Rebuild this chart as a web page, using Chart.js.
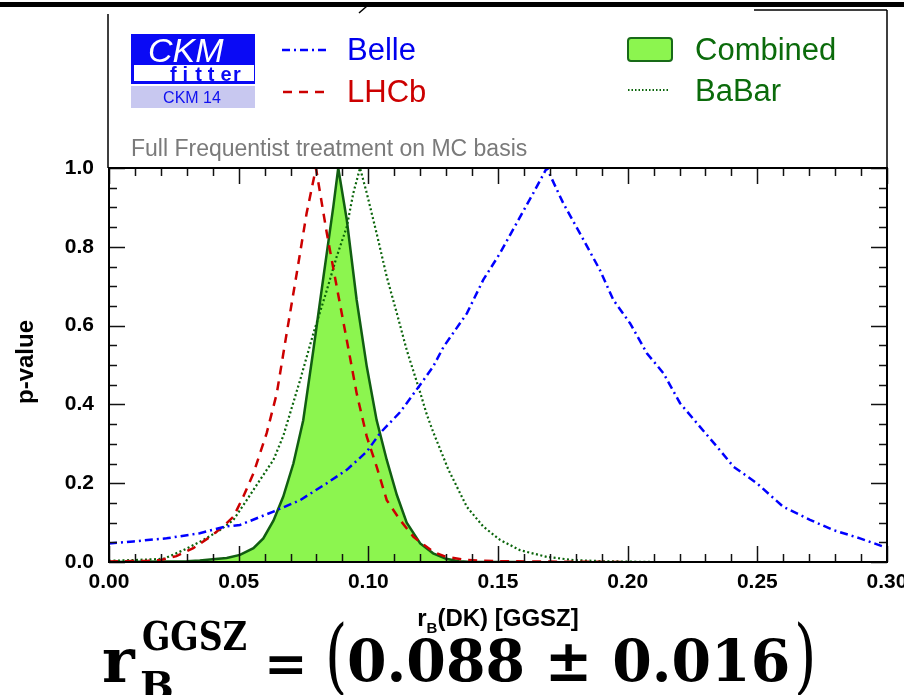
<!DOCTYPE html>
<html>
<head>
<meta charset="utf-8">
<script src="https://cdn.jsdelivr.net/npm/chart.js@4.4.1/dist/chart.umd.min.js"></script>
<style>
  html, body { margin: 0; padding: 0; background: #fff; }
  #wrap { width: 904px; height: 695px; position: relative; }
</style>
</head>
<body>
<div id="wrap"><canvas id="myChart" width="904" height="695"></canvas></div>
<script>
// tick labels
const xTickLabels = ['0.00', '0.05', '0.10', '0.15', '0.20', '0.25', '0.30'];
const yTickLabels = ['0.0', '0.2', '0.4', '0.6', '0.8', '1.0'];

// Combined (filled)
const combX = [0, 0.02, 0.03, 0.035, 0.04, 0.0454, 0.0505, 0.0557, 0.0595, 0.0634, 0.0672, 0.0711, 0.0749, 0.0788, 0.0827, 0.0865, 0.0884,
  0.0917, 0.0955, 0.0994, 0.1032, 0.1071, 0.111, 0.1148, 0.12, 0.125, 0.13, 0.135, 0.14, 0.16];
const combY = [0, 0.001, 0.002, 0.004, 0.007, 0.01, 0.018, 0.035, 0.06, 0.105, 0.166, 0.25, 0.36, 0.538, 0.724, 0.902, 1.0,
  0.868, 0.665, 0.496, 0.36, 0.259, 0.17, 0.1, 0.047, 0.022, 0.008, 0.002, 0.0, 0.0];

// LHCb
const lhcbX = [0, 0.005, 0.015, 0.02, 0.026, 0.0325, 0.039, 0.044, 0.048, 0.0518, 0.0557, 0.0608, 0.0647, 0.0685, 0.0724, 0.0762, 0.0798,
  0.084, 0.0878, 0.0917, 0.0955, 0.0994, 0.1032, 0.1071, 0.1122, 0.1174, 0.125, 0.13, 0.138, 0.15, 0.17, 0.2];
const lhcbY = [0.001, 0.002, 0.003, 0.005, 0.015, 0.035, 0.064, 0.09, 0.115, 0.166, 0.225, 0.327, 0.428, 0.58, 0.733, 0.885, 1.0,
  0.834, 0.699, 0.563, 0.428, 0.318, 0.242, 0.157, 0.107, 0.064, 0.026, 0.013, 0.005, 0.002, 0.001, 0.0];

// BaBar
const babarX = [0, 0.01, 0.021, 0.0287, 0.0364, 0.0428, 0.048, 0.0531, 0.0582, 0.0634, 0.0672, 0.0737, 0.0788, 0.084, 0.0878, 0.0917, 0.0942, 0.0968,
  0.0994, 0.1032, 0.1071, 0.111, 0.1148, 0.12, 0.1225, 0.125, 0.1309, 0.138, 0.1443, 0.1508, 0.1585, 0.1688, 0.179, 0.19, 0.21];
const babarY = [0.003, 0.005, 0.008, 0.03, 0.056, 0.081, 0.107, 0.157, 0.208, 0.259, 0.32, 0.462, 0.58, 0.69, 0.775, 0.851, 0.936, 1.0,
  0.936, 0.834, 0.724, 0.631, 0.538, 0.43, 0.375, 0.33, 0.234, 0.14, 0.09, 0.056, 0.03, 0.013, 0.005, 0.002, 0.0];

// Belle
const belleX = [0, 0.0094, 0.017, 0.0222, 0.035, 0.045, 0.0505, 0.057, 0.0634, 0.0737, 0.084, 0.0917, 0.0994, 0.1045, 0.1122, 0.12, 0.125, 0.129, 0.138,
  0.1443, 0.1508, 0.1572, 0.1636, 0.1688, 0.1752, 0.1816, 0.1893, 0.1945, 0.2009, 0.2074, 0.2138, 0.2202, 0.2279, 0.2344, 0.2408, 0.2498,
  0.26, 0.2703, 0.2793, 0.2896, 0.2986];
const belleY = [0.047, 0.052, 0.057, 0.06, 0.073, 0.09, 0.094, 0.111, 0.128, 0.157, 0.2, 0.234, 0.28, 0.327, 0.38, 0.45, 0.496, 0.546, 0.631,
  0.716, 0.784, 0.86, 0.936, 1.0, 0.91, 0.834, 0.741, 0.665, 0.606, 0.53, 0.479, 0.403, 0.343, 0.293, 0.242, 0.2,
  0.14, 0.107, 0.081, 0.06, 0.039];

const pts = (xs, ys) => xs.map((x, i) => ({ x: x, y: ys[i] }));

const SANS = '"Liberation Sans", Arial, sans-serif';
const SERIF = '"DejaVu Serif", serif';
const GREEN_TXT = '#0b6b0b';

// draw text squeezed horizontally
function squeezed(ctx, txt, x, y, sx) {
  ctx.save();
  ctx.translate(x, y);
  ctx.scale(sx, 1);
  ctx.fillText(txt, 0, 0);
  ctx.restore();
}

// frame, inward ticks and all the decoration around the plot
const decor = {
  id: 'decor',
  afterDraw(chart) {
    const ctx = chart.ctx;
    const a = chart.chartArea;
    const xs = chart.scales.x, ys = chart.scales.y;
    ctx.save();

    // ticks
    ctx.strokeStyle = '#111';
    ctx.lineWidth = 1.5;
    ctx.beginPath();
    for (let k = 0; k <= 30; k++) {
      const px = Math.round(xs.getPixelForValue(k / 100)) + 0.5;
      const len = (k % 5 === 0) ? 16 : 8;
      ctx.moveTo(px, a.bottom); ctx.lineTo(px, a.bottom - len);
      ctx.moveTo(px, a.top); ctx.lineTo(px, a.top + len);
    }
    for (let k = 0; k <= 20; k++) {
      const py = Math.round(ys.getPixelForValue(k / 20)) + 0.5;
      const len = (k % 4 === 0) ? 16 : 8;
      ctx.moveTo(a.left, py); ctx.lineTo(a.left + len, py);
      ctx.moveTo(a.right, py); ctx.lineTo(a.right - len, py);
    }
    ctx.stroke();

    // plot frame
    ctx.strokeStyle = '#000';
    ctx.lineWidth = 2;
    ctx.strokeRect(a.left, a.top, a.right - a.left, a.bottom - a.top);

    // box above the plot
    ctx.lineWidth = 1.5;
    ctx.beginPath();
    ctx.moveTo(a.left - 1, 14); ctx.lineTo(a.left - 1, a.top);
    ctx.moveTo(a.right, 10); ctx.lineTo(a.right, a.top);
    ctx.moveTo(754, 10); ctx.lineTo(a.right, 10);
    ctx.stroke();
    ctx.fillStyle = '#000';
    ctx.fillRect(0, 2, 904, 5);
    ctx.lineWidth = 1.5;
    ctx.beginPath();
    ctx.moveTo(367, 6); ctx.lineTo(359, 13);
    ctx.stroke();

    // CKMfitter logo
    ctx.fillStyle = '#0a0af5';
    ctx.fillRect(131, 34, 124, 50);
    ctx.fillStyle = '#fff';
    ctx.fillRect(134, 65, 120, 16);
    ctx.font = 'italic 34px ' + SANS;
    ctx.textBaseline = 'alphabetic';
    ctx.textAlign = 'left';
    ctx.fillText('CKM', 148, 62);
    ctx.fillStyle = '#0a0af5';
    ctx.font = 'bold 20px ' + SANS;
    const fit = 'fitter';
    for (let i = 0; i < fit.length; i++) {
      ctx.fillText(fit[i], 170 + i * 12.6, 81);
    }
    ctx.fillStyle = '#c8c8f0';
    ctx.fillRect(131, 86, 124, 22);
    ctx.fillStyle = '#1010f0';
    ctx.font = '16px ' + SANS;
    ctx.textAlign = 'center';
    ctx.fillText('CKM 14', 192, 103);

    // legend
    ctx.textAlign = 'left';
    ctx.font = '31px ' + SANS;
    ctx.lineWidth = 2.5;
    ctx.strokeStyle = '#0000ff';
    ctx.setLineDash([8, 4, 2, 4]);
    ctx.beginPath(); ctx.moveTo(282, 50); ctx.lineTo(327, 50); ctx.stroke();
    ctx.fillStyle = '#0000ee';
    ctx.fillText('Belle', 347, 60);

    ctx.strokeStyle = '#cc0000';
    ctx.setLineDash([9, 7]);
    ctx.beginPath(); ctx.moveTo(283, 92); ctx.lineTo(327, 92); ctx.stroke();
    ctx.fillStyle = '#cc0000';
    ctx.fillText('LHCb', 347, 102);

    ctx.setLineDash([]);
    ctx.fillStyle = '#8cf54f';
    ctx.strokeStyle = '#186a18';
    ctx.lineWidth = 2;
    ctx.beginPath();
    ctx.roundRect(628, 38, 44, 23, 3);
    ctx.fill(); ctx.stroke();
    ctx.fillStyle = GREEN_TXT;
    ctx.fillText('Combined', 695, 60);

    ctx.strokeStyle = '#0a640a';
    ctx.lineWidth = 2;
    ctx.setLineDash([1.5, 2]);
    ctx.beginPath(); ctx.moveTo(628, 90); ctx.lineTo(670, 90); ctx.stroke();
    ctx.setLineDash([]);
    ctx.fillStyle = GREEN_TXT;
    ctx.fillText('BaBar', 695, 101);

    ctx.fillStyle = '#7a7a7a';
    ctx.font = '23px ' + SANS;
    ctx.fillText('Full Frequentist treatment on MC basis', 131, 156);

    // axis titles
    ctx.fillStyle = '#000';
    ctx.save();
    ctx.translate(33, 362);
    ctx.rotate(-Math.PI / 2);
    ctx.textAlign = 'center';
    ctx.font = 'bold 24px ' + SANS;
    ctx.fillText('p-value', 0, 0);
    ctx.restore();

    const cx = (a.left + a.right) / 2;
    ctx.font = 'bold 24px ' + SANS;
    const wr = ctx.measureText('r').width;
    const wrest = ctx.measureText('(DK) [GGSZ]').width;
    ctx.font = 'bold 15px ' + SANS;
    const wb = ctx.measureText('B').width;
    let x0 = cx - (wr + wb + wrest) / 2;
    ctx.font = 'bold 24px ' + SANS;
    ctx.fillText('r', x0, 626);
    ctx.font = 'bold 15px ' + SANS;
    ctx.fillText('B', x0 + wr, 633);
    ctx.font = 'bold 24px ' + SANS;
    ctx.fillText('(DK) [GGSZ]', x0 + wr + wb, 626);

    // result formula
    ctx.font = 'bold 62px ' + SERIF;
    ctx.fillText('r', 102, 682);
    ctx.font = 'bold 40px ' + SERIF;
    squeezed(ctx, 'GGSZ', 142, 650, 0.83);
    ctx.fillText('B', 140, 700);
    ctx.font = 'bold 52px ' + SERIF;
    ctx.fillText('=', 264, 682);
    ctx.font = '82px ' + SERIF;
    squeezed(ctx, '(', 325, 684, 0.7);
    squeezed(ctx, ')', 794, 684, 0.7);
    ctx.font = 'bold 58px ' + SERIF;
    squeezed(ctx, '0.088 \u00b1 0.016', 347, 681, 0.98);

    ctx.restore();
  }
};

new Chart('myChart', {
  type: 'line',
  data: {
    datasets: [{
      label: 'Belle',
      data: pts(belleX, belleY),
      borderColor: '#0000ff',
      borderWidth: 2.5,
      borderDash: [8, 4, 2, 4],
      pointRadius: 0,
      fill: false,
      order: 0
    }, {
      label: 'LHCb',
      data: pts(lhcbX, lhcbY),
      borderColor: '#cc0000',
      borderWidth: 2.5,
      borderDash: [9, 7],
      pointRadius: 0,
      fill: false,
      order: 1
    }, {
      label: 'BaBar',
      data: pts(babarX, babarY),
      borderColor: '#0a640a',
      borderWidth: 2.2,
      borderDash: [2, 2.5],
      pointRadius: 0,
      fill: false,
      order: 2
    }, {
      label: 'Combined',
      data: pts(combX, combY),
      borderColor: '#115e11',
      backgroundColor: '#8cf54f',
      borderWidth: 2.5,
      pointRadius: 0,
      fill: 'origin',
      order: 3
    }]
  },
  options: {
    responsive: false,
    animation: false,
    layout: { padding: { top: 168, right: 17, bottom: 0, left: 0 } },
    plugins: { legend: { display: false }, tooltip: { enabled: false } },
    scales: {
      x: {
        type: 'linear',
        min: 0, max: 0.3,
        grid: { display: false, drawTicks: false },
        border: { display: false },
        ticks: {
          stepSize: 0.05,
          padding: 8,
          color: '#000',
          font: { family: SANS, size: 21, weight: 'bold' },
          maxRotation: 0,
          callback: (v, i) => xTickLabels[i]
        },
        afterFit: (s) => { s.height = 133; s.paddingLeft = 0; s.paddingRight = 0; }
      },
      y: {
        min: 0, max: 1,
        grid: { display: false, drawTicks: false },
        border: { display: false },
        ticks: {
          stepSize: 0.2,
          padding: 15,
          color: '#000',
          font: { family: SANS, size: 21, weight: 'bold' },
          callback: (v, i) => yTickLabels[i]
        },
        afterFit: (s) => { s.width = 109; s.paddingTop = 0; s.paddingBottom = 0; }
      }
    }
  },
  plugins: [decor]
});
</script>
</body>
</html>
